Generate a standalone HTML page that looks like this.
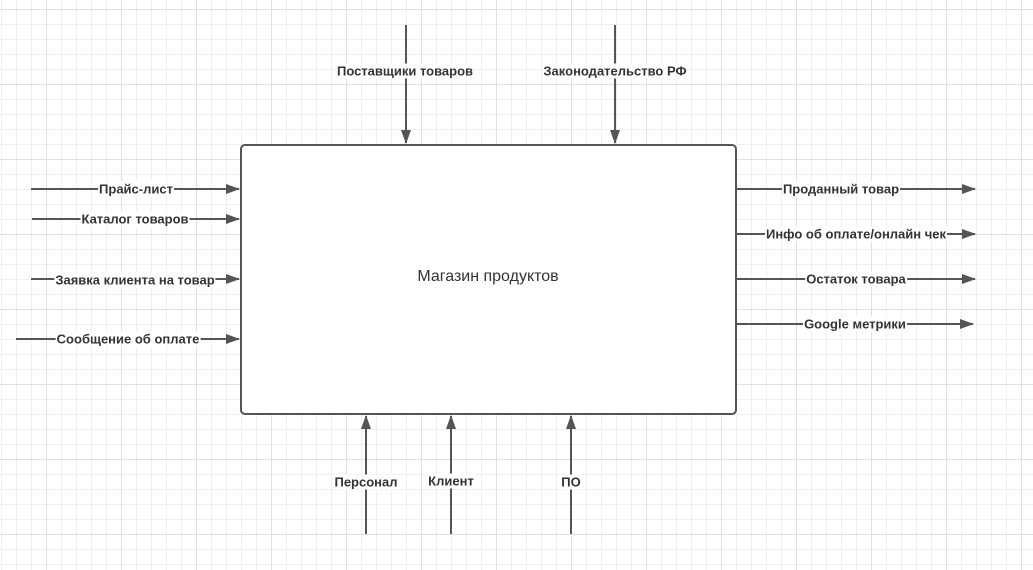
<!DOCTYPE html>
<html><head><meta charset="utf-8"><style>
html,body{margin:0;padding:0;}
body{width:1033px;height:570px;position:relative;overflow:hidden;background:#fff;
background-image:
linear-gradient(to right,#e0e0e0 1px,transparent 1px),
linear-gradient(to bottom,#e0e0e0 1px,transparent 1px),
linear-gradient(to right,#eeeeee 1px,transparent 1px),
linear-gradient(to bottom,#eeeeee 1px,transparent 1px);
background-size:75px 75px,75px 75px,15px 15px,15px 15px;
background-position:46px 0,0 9px,1px 0,0 9px;
font-family:"Liberation Sans","DejaVu Sans",sans-serif;}
svg{position:absolute;left:0;top:0;}
.l{position:absolute;transform:translate(-50%,-50%);background:#fff;font-weight:bold;font-size:13px;color:#333;white-space:nowrap;line-height:15px;padding:0 1px;}
</style></head><body>
<svg width="1033" height="570">
<defs><marker id="a" markerWidth="14" markerHeight="10" refX="13" refY="5" orient="auto" markerUnits="userSpaceOnUse"><path d="M0,0 L14,5 L0,10 z" fill="#555"/></marker></defs>
<g stroke="#555" stroke-width="2" fill="none">
<rect x="241" y="145" width="495" height="269" rx="4" fill="#fff"/>
<line x1="31" y1="189" x2="239" y2="189" marker-end="url(#a)"/>
<line x1="32" y1="219" x2="239" y2="219" marker-end="url(#a)"/>
<line x1="31" y1="279" x2="239" y2="279" marker-end="url(#a)"/>
<line x1="16" y1="339" x2="239" y2="339" marker-end="url(#a)"/>
<line x1="737" y1="189" x2="975" y2="189" marker-end="url(#a)"/>
<line x1="737" y1="234" x2="975" y2="234" marker-end="url(#a)"/>
<line x1="737" y1="279" x2="975" y2="279" marker-end="url(#a)"/>
<line x1="737" y1="324" x2="973" y2="324" marker-end="url(#a)"/>
<line x1="406" y1="25" x2="406" y2="143" marker-end="url(#a)"/>
<line x1="615" y1="25" x2="615" y2="143" marker-end="url(#a)"/>
<line x1="366" y1="534" x2="366" y2="416" marker-end="url(#a)"/>
<line x1="451" y1="534" x2="451" y2="416" marker-end="url(#a)"/>
<line x1="571" y1="534" x2="571" y2="416" marker-end="url(#a)"/>
</g>
</svg>
<div class="l" style="left:136px;top:189px">Прайс-лист</div>
<div class="l" style="left:135px;top:219px">Каталог товаров</div>
<div class="l" style="left:135px;top:280px">Заявка клиента на товар</div>
<div class="l" style="left:128px;top:339px">Сообщение об оплате</div>
<div class="l" style="left:841px;top:189px">Проданный товар</div>
<div class="l" style="left:856px;top:234px">Инфо об оплате/онлайн чек</div>
<div class="l" style="left:856px;top:279px">Остаток товара</div>
<div class="l" style="left:855px;top:324px">Google метрики</div>
<div class="l" style="left:405px;top:71px">Поставщики товаров</div>
<div class="l" style="left:615px;top:71px">Законодательство РФ</div>
<div class="l" style="left:366px;top:482px">Персонал</div>
<div class="l" style="left:451px;top:481px">Клиент</div>
<div class="l" style="left:571px;top:482px">ПО</div>
<div class="l" style="left:488px;top:277px;font-weight:normal;font-size:16px;line-height:18px;background:transparent">Магазин продуктов</div>
</body></html>
